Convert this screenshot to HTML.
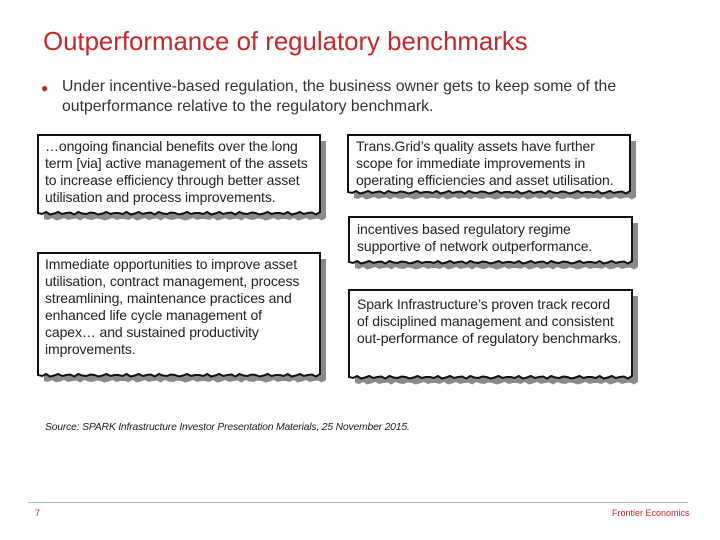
<!DOCTYPE html>
<html><head><meta charset="utf-8"><style>
body{margin:0;width:720px;height:540px;background:#fff;position:relative;overflow:hidden;font-family:"Liberation Sans",sans-serif}
.t{position:absolute;color:#222}
.box{position:absolute;font-size:14px;line-height:17px;color:#222;letter-spacing:-0.1px}
</style></head><body>
<div class="t" style="left:43px;top:28px;font-size:25.8px;color:#c8262d">Outperformance of regulatory benchmarks</div>
<div class="t" style="left:41px;top:81px;font-size:12px;color:#c8262d">●</div>
<div class="t" style="left:62px;top:77px;font-size:15.8px;line-height:20px;color:#333">Under incentive-based regulation, the business owner gets to keep some of the<br>outperformance relative to the regulatory benchmark.</div>
<svg id="s" width="720" height="540" style="position:absolute;left:0;top:0"></svg>
<div class="box" style="left:45px;top:138px">…ongoing financial benefits over the long<br>term [via] active management of the assets<br>to increase efficiency through better asset<br>utilisation and process improvements.</div>
<div class="box" style="left:356px;top:138px">Trans.Grid’s quality assets have further<br>scope for immediate improvements in<br>operating efficiencies and asset utilisation.</div>
<div class="box" style="left:357px;top:221px">incentives based regulatory regime<br>supportive of network outperformance.</div>
<div class="box" style="left:45px;top:256px">Immediate opportunities to improve asset<br>utilisation, contract management, process<br>streamlining, maintenance practices and<br>enhanced life cycle management of<br>capex… and sustained productivity<br>improvements.</div>
<div class="box" style="left:357px;top:296px">Spark Infrastructure’s proven track record<br>of disciplined management and consistent<br>out-performance of regulatory benchmarks.</div>
<div class="t" style="left:45px;top:422px;font-size:10.4px;font-style:italic;letter-spacing:-0.2px">Source: SPARK Infrastructure Investor Presentation Materials, 25 November 2015.</div>
<div style="position:absolute;left:28px;top:502px;width:660px;height:1px;background:#bbb"></div>
<div class="t" style="left:35px;top:508px;font-size:9px;color:#c8262d">7</div>
<div class="t" style="left:612px;top:508px;font-size:9px;color:#c8262d">Frontier Economics</div>
<script>
const boxes=[[38,135,320,213],[348,135,630,192],[349,217,632,262],[38,253,320,375],[349,290,632,377]];
const jit=[0,1,-1,1.5,0.5,-1,1,0,-0.5,1.5,-1,0.5,1,-0.5,0,1.5,0.5,-1,1,0];
const s=document.getElementById('s');
function path(x1,y1,x2,y2,dx,dy){
 let p=`M${x1+dx},${y1+dy} L${x2+dx},${y1+dy} L${x2+dx},${y2+dy}`;
 const n=70;
 for(let i=n;i>=0;i--){const x=x1+(x2-x1)*i/n;p+=` L${x+dx},${y2+dy+jit[i%jit.length]}`;}
 return p+' Z';
}
boxes.forEach((b,i)=>{
 const sh=document.createElementNS('http://www.w3.org/2000/svg','path');
 sh.setAttribute('d',path(...b,6,6));sh.setAttribute('fill','#8a8a8a');
 
 
 s.appendChild(sh);
 const f=document.createElementNS('http://www.w3.org/2000/svg','path');
 f.setAttribute('d',path(...b,0,0));f.setAttribute('fill','#fff');f.setAttribute('stroke','#111');f.setAttribute('stroke-width','2');
 
 
 s.appendChild(f);
});
</script>
</body></html>
